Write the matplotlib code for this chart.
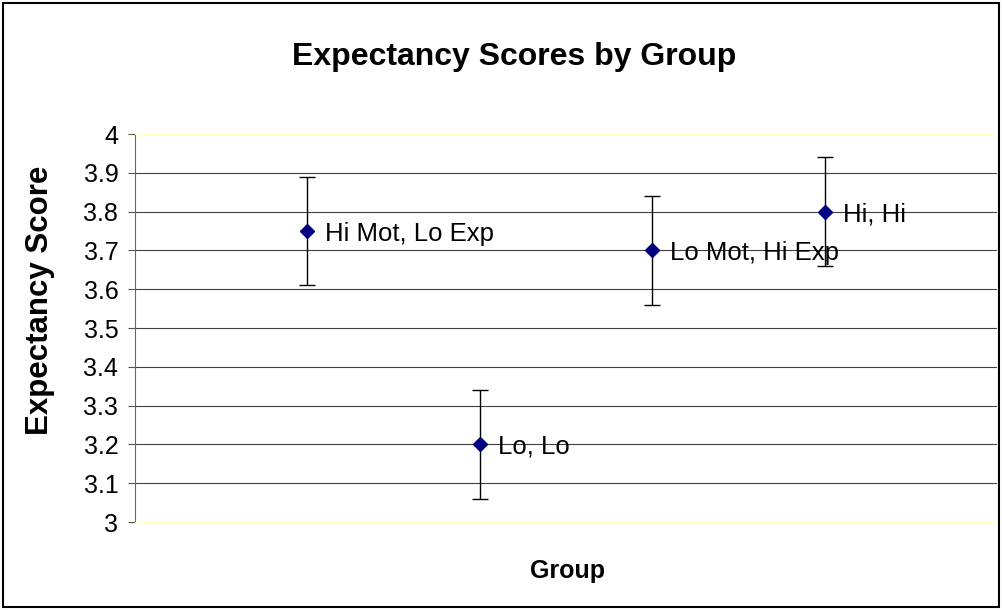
import matplotlib.pyplot as plt
from matplotlib.patches import Rectangle

plt.rcParams['font.family'] = ['Liberation Sans', 'DejaVu Sans']

groups = ['Hi Mot, Lo Exp', 'Lo, Lo', 'Lo Mot, Hi Exp', 'Hi, Hi']
positions = [1, 2, 3, 4]
scores = [3.75, 3.2, 3.7, 3.8]
errors = [0.14, 0.14, 0.14, 0.14]
yticks = [3, 3.1, 3.2, 3.3, 3.4, 3.5, 3.6, 3.7, 3.8, 3.9, 4]
ytick_labels = ['3', '3.1', '3.2', '3.3', '3.4', '3.5', '3.6', '3.7', '3.8', '3.9', '4']

fig = plt.figure(figsize=(10.03, 6.10), dpi=100)
# outer chart border
fig.patches.append(Rectangle((3 / 1003, 3 / 610), 996 / 1003, 604 / 610, transform=fig.transFigure,
                             fill=False, edgecolor='black', linewidth=1.5))

ax = fig.add_axes([135 / 1003, 88 / 610, 862 / 1003, 388 / 610])
ax.set_xlim(0, 5)
ax.set_ylim(3, 4)

for y in yticks[1:-1]:
    ax.axhline(y, color='#404040', linewidth=0.8, zorder=1)

ax.errorbar(positions, scores, yerr=errors, fmt='D', color='#000080', markersize=7,
            ecolor='black', elinewidth=1.0, capsize=6, capthick=1.0, zorder=3)

for x, y, name in zip(positions, scores, groups):
    ax.annotate(name, (x, y), xytext=(13, 0), textcoords='offset points',
                va='center_baseline', ha='left', fontsize=18.5, zorder=4)

ax.set_yticks(yticks)
ax.set_yticklabels(ytick_labels, fontsize=18)
ax.set_xticks([])
ax.tick_params(axis='y', direction='out', length=5, width=0.8, color='#555555', pad=7)

for side in ['top', 'bottom', 'right']:
    ax.spines[side].set_color('#ffffc0')
ax.spines['left'].set_color('#6b6b50')

fig.text(40 / 1003, 1 - 300 / 610, 'Expectancy Score', fontsize=22.5, fontweight='bold',
         rotation=90, ha='center', va='center')
fig.text(568 / 1003, 1 - 571 / 610, 'Group', fontsize=18, fontweight='bold',
         ha='center', va='center')
fig.text(514 / 1003, 1 - 57 / 610, 'Expectancy Scores by Group', fontsize=23,
         fontweight='bold', ha='center', va='center')

fig.savefig('out.png', dpi=100)
